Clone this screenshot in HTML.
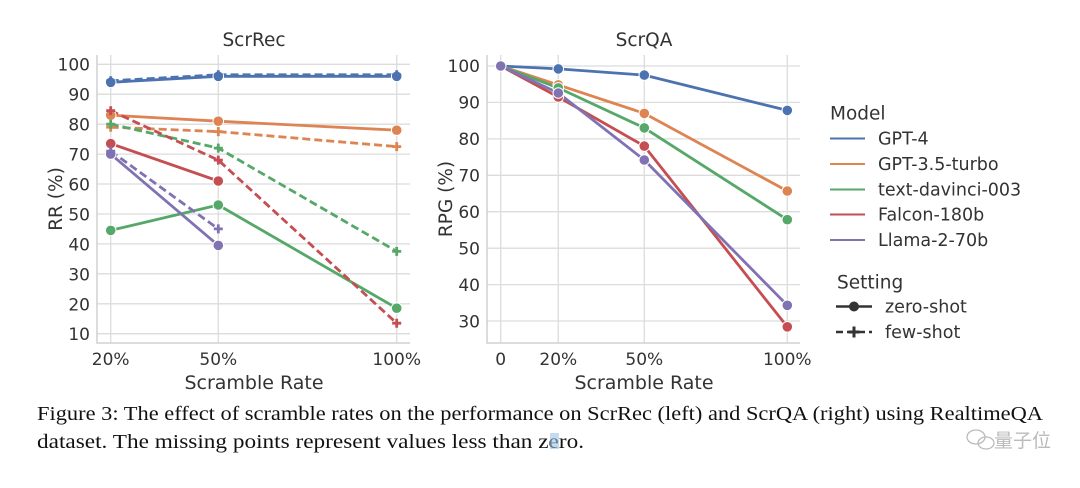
<!DOCTYPE html>
<html><head><meta charset="utf-8"><style>
html,body{margin:0;padding:0;background:#fff;}
svg{display:block;}
</style></head><body>
<svg width="1080" height="488" viewBox="0 0 1080 488" xmlns="http://www.w3.org/2000/svg" font-family="DejaVu Sans, Liberation Sans, sans-serif">
<defs>
<g id="pl"><path d="M-4.5,0H4.5M0,-4.5V4.5" stroke-width="2.8"/></g>
</defs>
<!-- LEFT CHART -->
<g stroke="#dcdcdc" stroke-width="1.3">
<line x1="97" x2="410" y1="64.3" y2="64.3"/><line x1="97" x2="410" y1="94.2" y2="94.2"/><line x1="97" x2="410" y1="124.2" y2="124.2"/><line x1="97" x2="410" y1="154.1" y2="154.1"/><line x1="97" x2="410" y1="184" y2="184"/><line x1="97" x2="410" y1="214" y2="214"/><line x1="97" x2="410" y1="243.9" y2="243.9"/><line x1="97" x2="410" y1="273.8" y2="273.8"/><line x1="97" x2="410" y1="303.8" y2="303.8"/><line x1="97" x2="410" y1="333.7" y2="333.7"/>
<line x1="110.7" x2="110.7" y1="55" y2="343"/><line x1="218.3" x2="218.3" y1="55" y2="343"/><line x1="396.7" x2="396.7" y1="55" y2="343"/>
</g>
<path d="M97,55V343H410" fill="none" stroke="#d0d0d0" stroke-width="1.5"/>
<g font-size="17" fill="#333" text-anchor="end">
<text x="90" y="70.5">100</text><text x="90" y="100.5">90</text><text x="90" y="130.5">80</text><text x="90" y="160.5">70</text><text x="90" y="190.5">60</text><text x="90" y="220.5">50</text><text x="90" y="250.5">40</text><text x="90" y="280.5">30</text><text x="90" y="310.5">20</text><text x="90" y="340">10</text>
</g>
<g font-size="17" fill="#333" text-anchor="middle">
<text x="110.7" y="365">20%</text><text x="218.3" y="365">50%</text><text x="396.7" y="365">100%</text>
<text x="254" y="389" font-size="19">Scramble Rate</text>
<text x="254" y="46" font-size="18.5">ScrRec</text>
<text transform="translate(62,199) rotate(-90)" font-size="18.5">RR (%)</text>
</g>
<g fill="none" stroke-width="2.8" stroke-linejoin="round">
<polyline stroke="#4c72b0" points="110.7,82.3 218.3,76.3 396.7,76.3"/>
<polyline stroke="#4c72b0" stroke-dasharray="8,4" points="110.7,80.8 218.3,74.8 396.7,74.8"/>
<polyline stroke="#dd8452" points="110.7,115.2 218.3,121.2 396.7,130.2"/>
<polyline stroke="#dd8452" stroke-dasharray="8,4" points="110.7,127.2 218.3,131.6 396.7,146.6"/>
<polyline stroke="#55a868" points="110.7,230.4 218.3,205 396.7,308.2"/>
<polyline stroke="#55a868" stroke-dasharray="8,4" points="110.7,124.2 218.3,148.1 396.7,251.4"/>
<polyline stroke="#c44e52" points="110.7,143.6 218.3,181"/>
<polyline stroke="#c44e52" stroke-dasharray="8,4" points="110.7,110.7 218.3,160.1 396.7,323.2"/>
<polyline stroke="#8172b3" points="110.7,154.1 218.3,245.4"/>
<polyline stroke="#8172b3" stroke-dasharray="8,4" points="110.7,151.1 218.3,228.9"/>
</g>
<g stroke="#fff" stroke-width="1">
<g fill="#4c72b0"><circle cx="110.7" cy="82.3" r="5.3"/><circle cx="218.3" cy="76.3" r="5.3"/><circle cx="396.7" cy="76.3" r="5.3"/></g>
<g fill="#dd8452"><circle cx="110.7" cy="115.2" r="5.3"/><circle cx="218.3" cy="121.2" r="5.3"/><circle cx="396.7" cy="130.2" r="5.3"/></g>
<g fill="#55a868"><circle cx="110.7" cy="230.4" r="5.3"/><circle cx="218.3" cy="205" r="5.3"/><circle cx="396.7" cy="308.2" r="5.3"/></g>
<g fill="#c44e52"><circle cx="110.7" cy="143.6" r="5.3"/><circle cx="218.3" cy="181" r="5.3"/></g>
<g fill="#8172b3"><circle cx="110.7" cy="154.1" r="5.3"/><circle cx="218.3" cy="245.4" r="5.3"/></g>
</g>
<g stroke="#4c72b0"><use href="#pl" x="110.7" y="80.8"/><use href="#pl" x="218.3" y="74.8"/><use href="#pl" x="396.7" y="74.8"/></g>
<g stroke="#dd8452"><use href="#pl" x="110.7" y="127.2"/><use href="#pl" x="218.3" y="131.6"/><use href="#pl" x="396.7" y="146.6"/></g>
<g stroke="#55a868"><use href="#pl" x="110.7" y="124.2"/><use href="#pl" x="218.3" y="148.1"/><use href="#pl" x="396.7" y="251.4"/></g>
<g stroke="#c44e52"><use href="#pl" x="110.7" y="110.7"/><use href="#pl" x="218.3" y="160.1"/><use href="#pl" x="396.7" y="323.2"/></g>
<g stroke="#8172b3"><use href="#pl" x="110.7" y="151.1"/><use href="#pl" x="218.3" y="228.9"/></g>

<!-- RIGHT CHART -->
<g stroke="#dcdcdc" stroke-width="1.3">
<line x1="487" x2="800" y1="66" y2="66"/><line x1="487" x2="800" y1="102.4" y2="102.4"/><line x1="487" x2="800" y1="138.9" y2="138.9"/><line x1="487" x2="800" y1="175.3" y2="175.3"/><line x1="487" x2="800" y1="211.7" y2="211.7"/><line x1="487" x2="800" y1="248.2" y2="248.2"/><line x1="487" x2="800" y1="284.6" y2="284.6"/><line x1="487" x2="800" y1="321" y2="321"/>
<line x1="500.7" x2="500.7" y1="55" y2="343"/><line x1="558.3" x2="558.3" y1="55" y2="343"/><line x1="644.3" x2="644.3" y1="55" y2="343"/><line x1="787.3" x2="787.3" y1="55" y2="343"/>
</g>
<path d="M487,55V343H800" fill="none" stroke="#d0d0d0" stroke-width="1.5"/>
<g font-size="17" fill="#333" text-anchor="end">
<text x="480" y="72">100</text><text x="480" y="108.5">90</text><text x="480" y="145">80</text><text x="480" y="181.5">70</text><text x="480" y="218">60</text><text x="480" y="254.5">50</text><text x="480" y="291">40</text><text x="480" y="327.5">30</text>
</g>
<g font-size="17" fill="#333" text-anchor="middle">
<text x="500.7" y="365">0</text><text x="558.3" y="365">20%</text><text x="644.3" y="365">50%</text><text x="787.3" y="365">100%</text>
<text x="644" y="389" font-size="19">Scramble Rate</text>
<text x="644" y="46" font-size="18.5">ScrQA</text>
<text transform="translate(452,199) rotate(-90)" font-size="18.5">RPG (%)</text>
</g>
<g fill="none" stroke-width="2.8" stroke-linejoin="round">
<polyline stroke="#4c72b0" points="500.7,66 558.3,68.9 644.3,75.1 787.3,110.4"/>
<polyline stroke="#dd8452" points="500.7,66 558.3,84.9 644.3,113.4 787.3,191"/>
<polyline stroke="#55a868" points="500.7,66 558.3,87.9 644.3,127.9 787.3,219.7"/>
<polyline stroke="#c44e52" points="500.7,66 558.3,97 644.3,146.1 787.3,326.8"/>
<polyline stroke="#8172b3" points="500.7,66 558.3,93 644.3,160 787.3,305.3"/>
</g>
<g stroke="#fff" stroke-width="1">
<g fill="#4c72b0"><circle cx="558.3" cy="68.9" r="5.3"/><circle cx="644.3" cy="75.1" r="5.3"/><circle cx="787.3" cy="110.4" r="5.3"/></g>
<g fill="#dd8452"><circle cx="558.3" cy="84.9" r="5.3"/><circle cx="644.3" cy="113.4" r="5.3"/><circle cx="787.3" cy="191" r="5.3"/></g>
<g fill="#55a868"><circle cx="558.3" cy="87.9" r="5.3"/><circle cx="644.3" cy="127.9" r="5.3"/><circle cx="787.3" cy="219.7" r="5.3"/></g>
<g fill="#c44e52"><circle cx="558.3" cy="97" r="5.3"/><circle cx="644.3" cy="146.1" r="5.3"/><circle cx="787.3" cy="326.8" r="5.3"/></g>
<g fill="#8172b3"><circle cx="500.7" cy="66" r="5.3"/><circle cx="558.3" cy="93" r="5.3"/><circle cx="644.3" cy="160" r="5.3"/><circle cx="787.3" cy="305.3" r="5.3"/></g>
</g>

<!-- LEGEND -->
<g font-size="17.5" fill="#333">
<text x="830" y="119.5" font-size="18.5">Model</text>
<text x="878" y="144.5">GPT-4</text>
<text x="878" y="170">GPT-3.5-turbo</text>
<text x="878" y="195.5">text-davinci-003</text>
<text x="878" y="220.5">Falcon-180b</text>
<text x="878" y="246">Llama-2-70b</text>
<text x="837" y="288.5" font-size="18.5">Setting</text>
<text x="885" y="312.5">zero-shot</text>
<text x="885" y="338">few-shot</text>
</g>
<g stroke-width="2">
<line x1="830" x2="865" y1="138.5" y2="138.5" stroke="#4c72b0"/>
<line x1="830" x2="865" y1="164" y2="164" stroke="#dd8452"/>
<line x1="830" x2="865" y1="189.5" y2="189.5" stroke="#55a868"/>
<line x1="830" x2="865" y1="214.5" y2="214.5" stroke="#c44e52"/>
<line x1="830" x2="865" y1="240" y2="240" stroke="#8172b3"/>
<line x1="836" x2="872" y1="306.5" y2="306.5" stroke="#333" stroke-width="2.5"/>
<line x1="836" x2="872" y1="332" y2="332" stroke="#333" stroke-width="2.5" stroke-dasharray="7,4"/>
</g>
<circle cx="854" cy="306.5" r="5" fill="#333"/>
<path d="M848.5,332H859.5M854,326.5V337.5" stroke="#333" stroke-width="3"/>

<!-- CAPTION -->
<g font-family="Liberation Serif, serif" font-size="20" fill="#111">
<text x="37" y="420" textLength="1006" lengthAdjust="spacingAndGlyphs">Figure 3: The effect of scramble rates on the performance on ScrRec (left) and ScrQA (right) using RealtimeQA</text>
<text x="37" y="448" textLength="547" lengthAdjust="spacingAndGlyphs">dataset. The missing points represent values less than zero.</text>
</g>
<rect x="550" y="433" width="9" height="16" fill="#9cc3e6" opacity="0.6"/>
<!-- watermark -->
<g fill="none" stroke="#bbb" stroke-width="1.3">
<ellipse cx="976" cy="437" rx="9" ry="7"/>
<ellipse cx="986" cy="443" rx="8" ry="6"/>
</g>
<text x="994" y="447" font-family="Noto Sans CJK SC, sans-serif" font-size="19" fill="#bbb">量子位</text>
</svg>
</body></html>
